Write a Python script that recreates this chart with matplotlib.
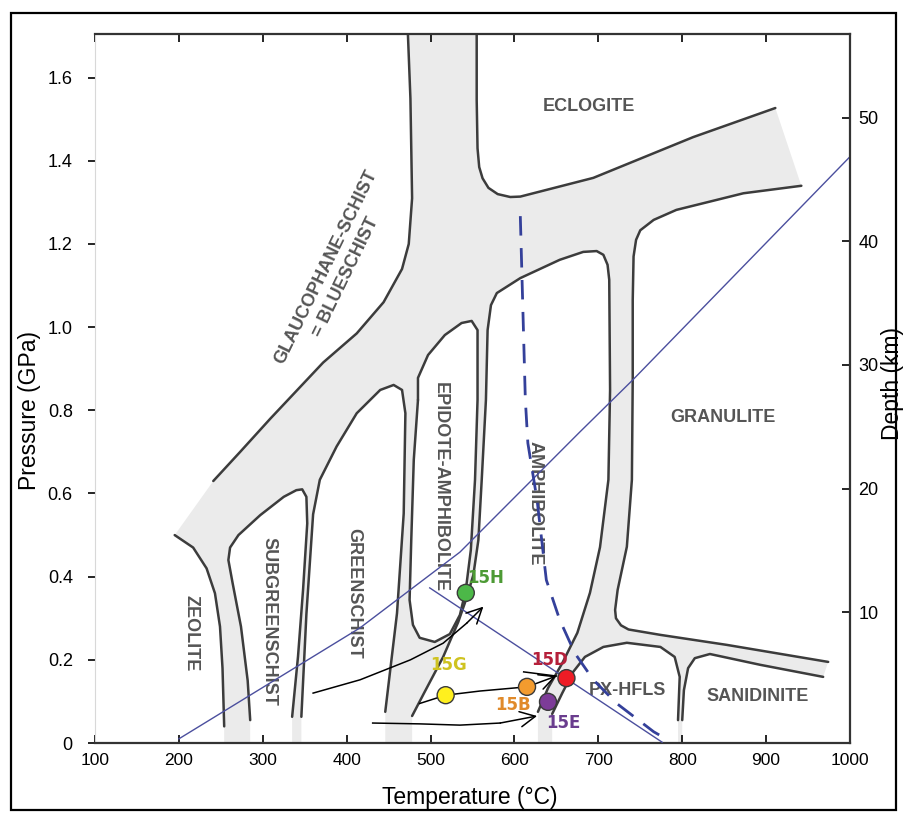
# Metamorphic facies P-T diagram with sample points 15B-15H

import matplotlib
matplotlib.use('Agg')
import matplotlib.pyplot as plt
from matplotlib.patches import Polygon, Rectangle

plt.rcParams['font.family'] = ['Liberation Sans', 'DejaVu Sans']

# facies boundaries: temperature (C), pressure (GPa)
blueschist_T = [473, 476, 478, 474, 466, 444, 412, 372, 344, 309, 273, 241]
blueschist_P = [1.705, 1.55, 1.31, 1.20, 1.14, 1.06, 0.985, 0.915, 0.855, 0.78, 0.70, 0.63]

zeolite_T = [195, 217, 233, 243, 249, 252, 254]
zeolite_P = [0.50, 0.47, 0.42, 0.36, 0.28, 0.18, 0.04]

subgreen_T = [285, 282, 274, 264, 259, 261, 271, 297, 325, 340, 347, 352, 353, 348, 342, 335]
subgreen_P = [0.055, 0.15, 0.28, 0.385, 0.44, 0.47, 0.50, 0.548, 0.592, 0.608, 0.61, 0.592,
              0.528, 0.368, 0.208, 0.063]

green_T = [346, 352, 360, 368, 388, 412, 440, 456, 466, 470, 468, 460, 446]
green_P = [0.063, 0.31, 0.55, 0.633, 0.713, 0.793, 0.849, 0.861, 0.849, 0.793, 0.552, 0.312, 0.075]

epamph_T = [485, 485, 497, 517, 537, 549, 556, 556, 553, 548, 542, 535, 523, 505, 487, 479,
            475, 477, 480, 485]
epamph_P = [0.825, 0.878, 0.933, 0.981, 1.010, 1.015, 0.993, 0.825, 0.633, 0.464, 0.368, 0.308,
            0.262, 0.243, 0.253, 0.284, 0.344, 0.488, 0.681, 0.825]

amph_T = [478, 493, 515, 533, 543, 551, 557, 561, 566, 568, 572, 579, 607, 654, 682, 698, 706,
          711, 713, 714, 712, 702, 690, 675, 657, 640, 628]
amph_P = [0.065, 0.123, 0.207, 0.291, 0.349, 0.404, 0.488, 0.633, 0.825, 0.993, 1.053, 1.082,
          1.118, 1.162, 1.181, 1.183, 1.174, 1.150, 1.114, 0.849, 0.633, 0.471, 0.361, 0.265,
          0.192, 0.132, 0.075]

pxhfls_T = [645, 657, 670, 684, 706, 734, 774, 791, 797, 795]
pxhfls_P = [0.070, 0.120, 0.171, 0.207, 0.231, 0.241, 0.231, 0.207, 0.159, 0.055]

granulite_T = [942, 873, 793, 766, 750, 745, 742, 741, 741, 740, 734, 723, 720, 721, 727, 736,
               774, 853, 974]
granulite_P = [1.340, 1.322, 1.282, 1.258, 1.233, 1.210, 1.170, 1.065, 0.873, 0.633, 0.472,
               0.368, 0.320, 0.300, 0.283, 0.273, 0.260, 0.236, 0.195]

sanid_T = [968, 893, 833, 815, 807, 802, 800]
sanid_P = [0.159, 0.188, 0.214, 0.204, 0.180, 0.127, 0.055]

eclogite_T = [555, 555, 556, 558, 562, 569, 580, 595, 607, 694, 813, 911]
eclogite_P = [1.705, 1.546, 1.43, 1.385, 1.358, 1.335, 1.320, 1.313, 1.314, 1.359, 1.457, 1.527]

# blue lines
dash_T = [607, 613, 616, 627, 638, 654, 672, 694, 722, 766, 785]
dash_P = [1.267, 0.825, 0.721, 0.584, 0.392, 0.296, 0.216, 0.152, 0.095, 0.027, 0.005]
geo1_T = [200, 416, 535, 678, 741, 1000]
geo1_P = [0.01, 0.277, 0.459, 0.748, 0.873, 1.41]
geo2_T = [499, 776]
geo2_P = [0.373, 0.002]

# black paths
path1_T = [360, 416, 476, 515, 543, 563]
path1_P = [0.120, 0.152, 0.200, 0.240, 0.288, 0.328]
path2_T = [487, 518, 559, 615, 650]
path2_P = [0.095, 0.115, 0.125, 0.135, 0.161]
path3_T = [611, 650]
path3_P = [0.171, 0.161]
path4_T = [431, 487, 535, 583, 627]
path4_P = [0.048, 0.046, 0.043, 0.048, 0.065]

# samples
samples = ['15H', '15G', '15B', '15D', '15E']
sample_T = [542, 518, 615, 662, 640]
sample_P = [0.361, 0.115, 0.135, 0.156, 0.099]
sample_col = ['#4cb848', '#fff01e', '#f39b2e', '#ee1c25', '#7d3c98']
label_T = [566, 522, 598, 642, 658]
label_P = [0.397, 0.188, 0.091, 0.200, 0.048]
label_col = ['#4d9a35', '#cfc320', '#e08a2a', '#b5203a', '#6a3d8e']

facies = ['ECLOGITE', 'GRANULITE', 'PX-HFLS', 'SANIDINITE', 'ZEOLITE', 'SUBGREENSCHIST',
          'GREENSCHIST', 'EPIDOTE-AMPHIBOLITE', 'AMPHIBOLITE', 'GLAUCOPHANE-SCHIST\n= BLUESCHIST']
facies_T = [689, 849, 735, 890, 215, 307, 408, 511, 624, 387]
facies_P = [1.530, 0.782, 0.127, 0.111, 0.265, 0.293, 0.361, 0.616, 0.577, 1.133]
facies_rot = [0, 0, 0, 0, -90, -90, -90, -90, -90, 64]

fig = plt.figure(figsize=(9.08, 8.21), dpi=100)
ax = fig.add_axes([95 / 908, 1 - 743 / 821, 755 / 908, 709 / 821])
ax.set_xlim(100, 1000)
ax.set_ylim(0, 1.705)
ax.set_facecolor('#ebebeb')

def pts(T, P):
    return list(zip(T, P))

# white facies fields, the grey left over are the transition bands
white = [
    [(100, 1.705)] + pts(blueschist_T, blueschist_P) + pts(zeolite_T, zeolite_P) + [(254, 0), (100, 0)],
    pts(eclogite_T, eclogite_P) + pts(granulite_T, granulite_P) + pts(sanid_T, sanid_P)
    + [(800, 0), (1000, 0), (1000, 1.705)],
    pts(subgreen_T, subgreen_P) + [(335, 0), (285, 0)],
    pts(green_T, green_P) + [(446, 0), (346, 0)],
    pts(amph_T, amph_P) + [(628, 0), (478, 0)],
    pts(pxhfls_T, pxhfls_P) + [(795, 0), (645, 0)],
    pts(epamph_T, epamph_P),
]
for w in white:
    ax.add_patch(Polygon(w, closed=True, fc='white', ec='none', zorder=1))

line_kw = dict(color='#3c3c3c', lw=1.8, solid_joinstyle='round', solid_capstyle='round', zorder=2)
for T, P in [(blueschist_T, blueschist_P), (zeolite_T, zeolite_P), (subgreen_T, subgreen_P),
             (green_T, green_P), (epamph_T, epamph_P), (amph_T, amph_P), (pxhfls_T, pxhfls_P),
             (granulite_T, granulite_P), (sanid_T, sanid_P), (eclogite_T, eclogite_P)]:
    ax.plot(T, P, **line_kw)

for name, T, P, r in zip(facies, facies_T, facies_P, facies_rot):
    ax.text(T, P, name, rotation=r, ha='center', va='center', fontsize=13, fontweight='bold',
            color='#555555', linespacing=1.4, rotation_mode='anchor', zorder=3)

# geotherms / blue lines
ax.plot(geo1_T, geo1_P, color='#4b4f9e', lw=1.0, zorder=4)
ax.plot(geo2_T, geo2_P, color='#4b4f9e', lw=1.0, zorder=4)
ax.plot(dash_T, dash_P, color='#34409a', lw=2.0, dashes=(7, 4.5), zorder=4)

# black P-T paths with open arrow heads
ax.plot(path1_T[:-1], path1_P[:-1], color='k', lw=1.1, zorder=5)
ax.plot(path2_T[:-1], path2_P[:-1], color='k', lw=1.1, zorder=5)
ax.plot(path3_T, path3_P, color='k', lw=1.1, zorder=5)
ax.plot(path4_T[:-1], path4_P[:-1], color='k', lw=1.1, zorder=5)
for T, P in [(path1_T, path1_P), (path2_T, path2_P), (path4_T, path4_P)]:
    ax.annotate('', xy=(T[-1], P[-1]), xytext=(T[-2], P[-2]),
                arrowprops=dict(arrowstyle='->,head_length=0.5,head_width=0.25', color='k',
                                lw=1.1, shrinkA=0, shrinkB=0, mutation_scale=22), zorder=5)

ax.scatter(sample_T, sample_P, s=150, c=sample_col, edgecolors='#3a3a3a', linewidths=1.0, zorder=6)
for name, T, P, c in zip(samples, label_T, label_P, label_col):
    ax.text(T, P, name, ha='center', va='center', fontsize=12, fontweight='bold',
            family='DejaVu Sans', color=c, zorder=6)

# axes, ticks
ax.set_xticks(range(100, 1001, 100))
ax.set_yticks([0, 0.2, 0.4, 0.6, 0.8, 1.0, 1.2, 1.4, 1.6])
ax.set_yticklabels(['0', '0.2', '0.4', '0.6', '0.8', '1.0', '1.2', '1.4', '1.6'])
ax.tick_params(axis='x', direction='in', top=True, length=6, width=1.2, labelsize=12.5, pad=7)
ax.tick_params(axis='y', direction='out', length=5, width=1.2, labelsize=13, pad=11)
for s in ['bottom', 'top']:
    ax.spines[s].set_linewidth(1.6)
    ax.spines[s].set_color('#333333')
ax.spines['left'].set_color('#d8d8d8')
ax.spines['right'].set_visible(False)

ax2 = ax.twinx()
ax2.set_ylim(-0.606, 56.8)
ax2.set_yticks([10, 20, 30, 40, 50])
ax2.tick_params(axis='y', direction='in', length=6, width=1.2, labelsize=13, pad=6)
for s in ['left', 'top', 'bottom']:
    ax2.spines[s].set_visible(False)
ax2.spines['right'].set_linewidth(1.6)
ax2.spines['right'].set_color('#333333')

fig.text(30 / 908, 1 - 410 / 821, 'Pressure (GPa)', rotation=90, ha='center', va='center', fontsize=16.5)
fig.text(470 / 908, 1 - 797 / 821, 'Temperature (°C)', ha='center', va='center', fontsize=16.5)
fig.text(893 / 908, 1 - 383 / 821, 'Depth (km)', rotation=90, ha='center', va='center', fontsize=16.5)

# outer frame
fig.patches.append(Rectangle((11 / 908, 1 - 810 / 821), 885 / 908, 797 / 821,
                             transform=fig.transFigure, fill=False, ec='black', lw=1.6))

fig.savefig('out.png', dpi=100)
